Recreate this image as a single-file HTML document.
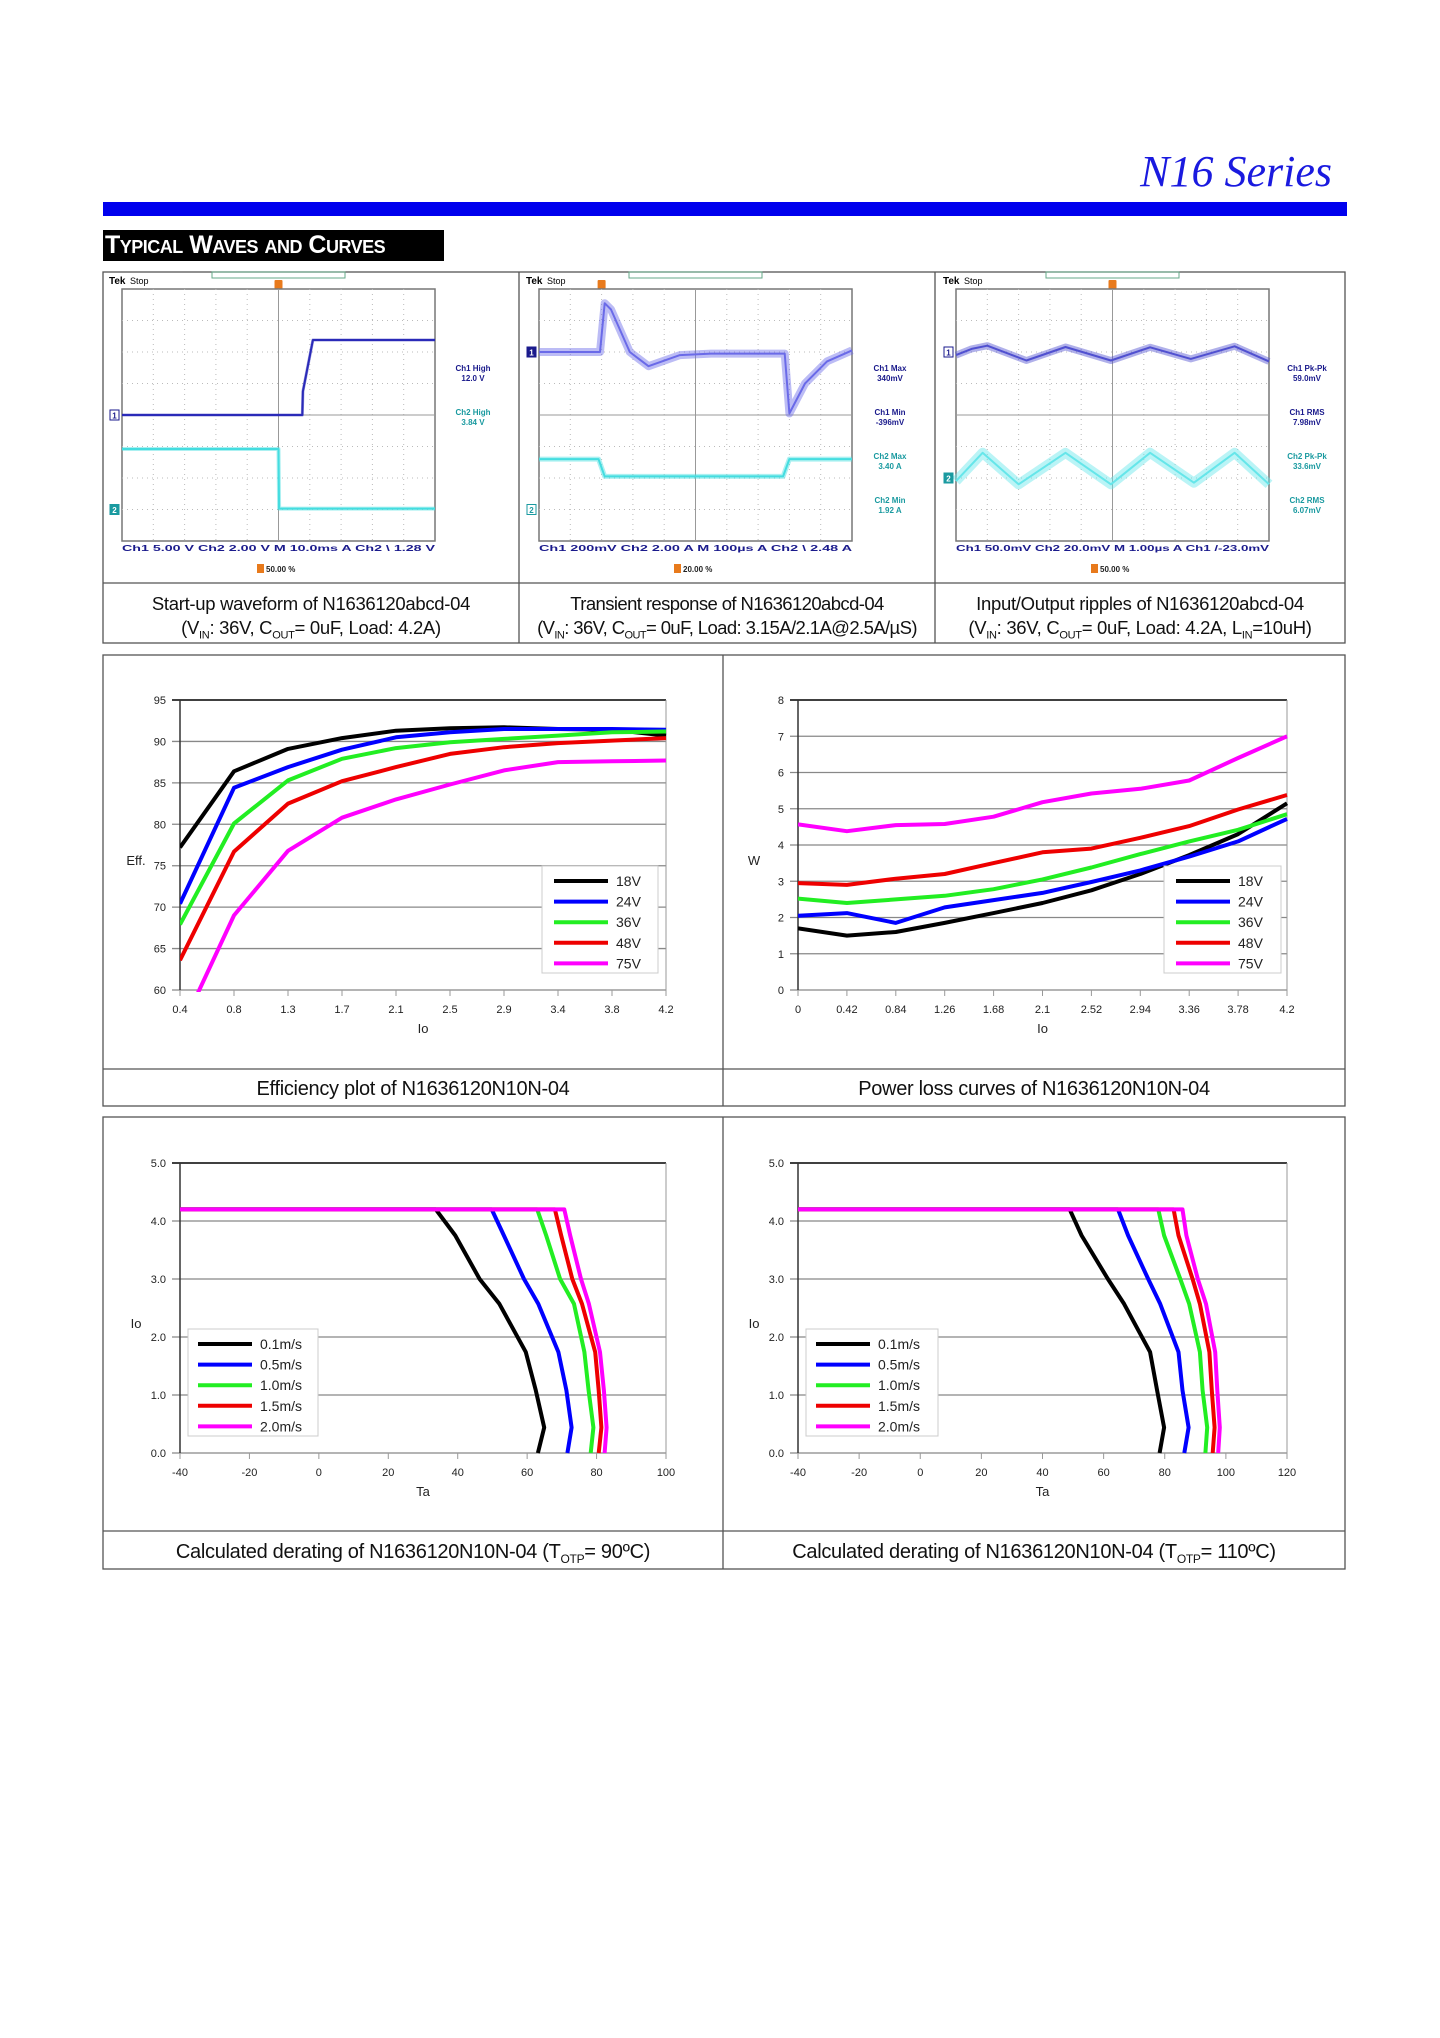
<!DOCTYPE html>
<html><head><meta charset="utf-8">
<style>
body{margin:0;background:#fff;}
#page{position:relative;width:1440px;height:2038px;background:#fff;overflow:hidden;font-family:"Liberation Sans",Arial,sans-serif;}
.abs{position:absolute;}
.cap{position:absolute;text-align:center;font-size:18.5px;color:#111;line-height:24px;white-space:nowrap;letter-spacing:-0.3px;}
.cap sub{line-height:0;}
svg text{font-family:"Liberation Sans",Arial,sans-serif;}
</style></head>
<body>
<div id="page">
  <div class="abs" style="left:1100px;top:146px;width:232px;text-align:right;font-family:'Liberation Serif',serif;font-style:italic;font-size:44px;color:#1a1adf;">N16 Series</div>
  <div class="abs" style="left:103px;top:202px;width:1244px;height:14px;background:#0000ee;"></div>
  <div class="abs" style="left:103px;top:230px;width:341px;height:31px;background:#000;color:#fff;font-size:25px;font-weight:bold;font-variant:small-caps;line-height:31px;white-space:nowrap;padding-left:2px;box-sizing:border-box;letter-spacing:-0.5px;">Typical Waves and Curves</div>

  <svg id="main" class="abs" style="left:0;top:0" width="1440" height="2038"></svg>

  <div class="cap" style="left:103px;top:592px;width:416px;">Start-up waveform of N1636120abcd-04<br>(V<sub style="font-size:11px">IN</sub>: 36V, C<sub style="font-size:11px">OUT</sub>= 0uF, Load: 4.2A)</div>
  <div class="cap" style="left:519px;top:592px;width:416px;letter-spacing:-0.6px;">Transient response of N1636120abcd-04<br>(V<sub style="font-size:11px">IN</sub>: 36V, C<sub style="font-size:11px">OUT</sub>= 0uF, Load: 3.15A/2.1A@2.5A/µS)</div>
  <div class="cap" style="left:935px;top:592px;width:410px;">Input/Output ripples of N1636120abcd-04<br>(V<sub style="font-size:11px">IN</sub>: 36V, C<sub style="font-size:11px">OUT</sub>= 0uF, Load: 4.2A, L<sub style="font-size:11px">IN</sub>=10uH)</div>
  <div class="cap" style="left:103px;top:1077px;width:620px;font-size:20px;">Efficiency plot of N1636120N10N-04</div>
  <div class="cap" style="left:723px;top:1077px;width:622px;font-size:20px;">Power loss curves of N1636120N10N-04</div>
  <div class="cap" style="left:103px;top:1540px;width:620px;font-size:20px;">Calculated derating of N1636120N10N-04 (T<sub style="font-size:12px">OTP</sub>= 90ºC)</div>
  <div class="cap" style="left:723px;top:1540px;width:622px;font-size:20px;">Calculated derating of N1636120N10N-04 (T<sub style="font-size:12px">OTP</sub>= 110ºC)</div>
</div>
<script>
// ---------- DATA ----------
const effCategories = ["0.4","0.8","1.3","1.7","2.1","2.5","2.9","3.4","3.8","4.2"];
const effTicks = [60,65,70,75,80,85,90,95];
const eff18 = [77.2,86.4,89.1,90.4,91.3,91.6,91.7,91.5,91.4,90.7];
const eff24 = [70.4,84.4,86.9,89.0,90.5,91.1,91.5,91.5,91.5,91.4];
const eff36 = [67.9,80.1,85.3,87.9,89.2,89.9,90.3,90.7,91.1,91.2];
const eff48 = [63.6,76.7,82.5,85.2,86.9,88.5,89.3,89.8,90.1,90.4];
const eff75 = [55.0,69.0,76.8,80.8,83.0,84.8,86.5,87.5,87.6,87.7];

const lossCategories = ["0","0.42","0.84","1.26","1.68","2.1","2.52","2.94","3.36","3.78","4.2"];
const lossTicks = [0,1,2,3,4,5,6,7,8];
const loss18 = [1.7,1.5,1.6,1.85,2.12,2.4,2.75,3.2,3.72,4.3,5.15];
const loss24 = [2.05,2.12,1.85,2.28,2.48,2.68,2.98,3.3,3.68,4.1,4.72];
const loss36 = [2.52,2.4,2.5,2.6,2.78,3.05,3.38,3.75,4.1,4.42,4.85];
const loss48 = [2.95,2.9,3.07,3.2,3.5,3.8,3.9,4.2,4.52,4.98,5.38];
const loss75 = [4.57,4.38,4.55,4.58,4.78,5.18,5.42,5.55,5.78,6.4,7.0];

const voltLabels = ["18V","24V","36V","48V","75V"];
const airLabels = ["0.1m/s","0.5m/s","1.0m/s","1.5m/s","2.0m/s"];
const seriesColors = ["#000000","#0000ff","#22ee22","#ee0000","#ff00ff"];

const derIoTicks = [0,1,2,3,4,5];
const derIoLabels = ["0.0","1.0","2.0","3.0","4.0","5.0"];
const derTaTicks90 = [-40,-20,0,20,40,60,80,100];
const derTaTicks110 = [-40,-20,0,20,40,60,80,100,120];
const derIo = [4.2,4.2,3.75,3.0,2.57,1.74,1.08,0.44,0.0];
const d90Ta01 = [-40,33.7,39.3,46.3,52,59.6,62.5,64.9,63.1];
const d90Ta05 = [-40,49.8,53.3,59.1,63.2,69,71.3,72.8,71.6];
const d90Ta10 = [-40,62.9,65.5,69.5,73.5,76.5,77.7,79.1,78.3];
const d90Ta15 = [-40,68,69.8,73,75.8,79.6,80.6,81.4,80.6];
const d90Ta20 = [-40,70.7,72.4,75.5,77.8,81.0,82.1,82.9,82.3];
const d110Ta01 = [-40,48.9,52.8,61.4,66.7,75.2,77.5,79.8,78.3];
const d110Ta05 = [-40,64.7,68,74.6,78.5,84.5,85.8,87.8,86.4];
const d110Ta10 = [-40,77.9,79.8,85.1,88,91.5,92.4,93.9,93.3];
const d110Ta15 = [-40,82.9,84.5,89.1,91.5,94.6,95.4,96.3,95.7];
const d110Ta20 = [-40,85.8,87.1,90.8,93.5,96.5,97.2,98,97.5];

// scope traces (x in divisions 0..10, y in divisions from top 0..8)
const s1Ch1X = [0,5.76,5.78,6.1,10];
const s1Ch1Y = [4.0,4.0,3.25,1.62,1.62];
const s1Ch2X = [0,5.0,5.02,10];
const s1Ch2Y = [5.08,5.08,6.97,6.97];
const s2Ch1X = [0,1.95,2.1,2.3,2.9,3.5,4.5,5.5,7.85,8.0,8.5,9.2,10];
const s2Ch1Y = [2.0,2.0,0.45,0.65,2.0,2.45,2.1,2.05,2.05,3.95,3.0,2.3,1.95];
const s2Ch2X = [0,1.9,2.1,7.8,8.0,10];
const s2Ch2Y = [5.4,5.4,5.95,5.95,5.4,5.4];
const s3Ch1X = [0,0.5,1.0,2.25,3.5,4.95,6.2,7.5,8.9,10];
const s3Ch1Y = [2.1,1.9,1.8,2.27,1.84,2.27,1.85,2.22,1.82,2.3];
const s3Ch2X = [0,0.85,2.0,3.5,4.95,6.2,7.6,8.9,10];
const s3Ch2Y = [6.1,5.2,6.2,5.2,6.2,5.2,6.15,5.2,6.2];

// ---------- HELPERS ----------
const NS="http://www.w3.org/2000/svg";
const svg=document.getElementById('main');
function mk(tag,attrs,parent){const e=document.createElementNS(NS,tag);for(const k in attrs)e.setAttribute(k,attrs[k]);(parent||svg).appendChild(e);return e;}
function txt(x,y,s,size,anchor,fill,parent,extra){const t=mk('text',Object.assign({x:x,y:y,'font-size':size,'text-anchor':anchor||'start',fill:fill||'#222'},extra||{}),parent);t.textContent=s;return t;}

// ---------- BOXES ----------
function rectBox(x,y,w,h,name){
  const r=mk('rect',{x:x,y:y,width:w,height:h,fill:'none',stroke:'#555','stroke-width':1.3});
  
  
}
function hline(x1,x2,y,name){
  const l=mk('line',{x1:x1,x2:x2,y1:y,y2:y,stroke:'#555','stroke-width':1.3});
  
  
}
function vline(x,y1,y2,name){
  const l=mk('line',{x1:x,x2:x,y1:y1,y2:y2,stroke:'#555','stroke-width':1.3});
  
  
}
rectBox(103,272,1242,371,'waveform-panel');
hline(103,1345,583,'waveform-caption-divider');
vline(519,272,643,'waveform-column-divider');
vline(935,272,643,'waveform-column-divider');
rectBox(103,655,1242,451,'curves-panel');
hline(103,1345,1069,'curves-caption-divider');
vline(723,655,1106,'curves-column-divider');
rectBox(103,1117,1242,452,'derating-panel');
hline(103,1345,1531,'derating-caption-divider');
vline(723,1117,1569,'derating-column-divider');

// ---------- SCOPE ----------
function scope(left,top,cfg){
  const W=313,H=252,dx=W/10,dy=H/8;
  const g=mk('g',{});
  
  
  const hdr=txt(left-13,top-5,'Tek',10,'start','#000',g,{'font-weight':'bold'});
  
  
  const st=txt(left+8,top-5,'Stop',9,'start','#000',g);
  
  
  const br=mk('rect',{x:left+90,y:top-17,width:133,height:6,fill:'none',stroke:'#6a8',"stroke-width":1},g);
  
  
  const tm=mk('rect',{x:left+cfg.trig*dx-4,y:top-9,width:8,height:9,fill:'#e87a1c',rx:1},g);
  
  
  const fr=mk('rect',{x:left,y:top,width:W,height:H,fill:'#fff',stroke:'#777','stroke-width':1.5},g);
  
  
  for(let i=1;i<10;i++){
    const l=mk('line',{x1:left+i*dx,x2:left+i*dx,y1:top,y2:top+H,stroke:i==5?'#999':'#bbb','stroke-width':1,'stroke-dasharray':i==5?'':'1,4'},g);
    
    
  }
  for(let j=1;j<8;j++){
    const l=mk('line',{x1:left,x2:left+W,y1:top+j*dy,y2:top+j*dy,stroke:j==4?'#999':'#bbb','stroke-width':1,'stroke-dasharray':j==4?'':'1,4'},g);
    
    
  }
  cfg.traces.forEach(tr=>{
    const pts=tr.x.map((v,i)=>(left+v*dx).toFixed(1)+','+(top+tr.y[i]*dy).toFixed(1)).join(' ');
    const halo=mk('polyline',{points:pts,fill:'none',stroke:tr.color,'stroke-width':tr.fuzz,'stroke-opacity':0.45,'stroke-linejoin':'round'},g);
    
    
    const p=mk('polyline',{points:pts,fill:'none',stroke:tr.color,'stroke-width':2,'stroke-linejoin':'round'},g);
    
    
  });
  cfg.markers.forEach(m=>{
    const r=mk('rect',{x:left-12,y:top+m.y*dy-5,width:9,height:10,fill:m.fill,stroke:m.color,'stroke-width':1},g);
    
    
    const t=txt(left-7.5,top+m.y*dy+3.5,m.label,8,'middle',m.fill=='#fff'?m.color:'#fff',g,{'font-weight':'bold'});
    
    
  });
  cfg.meas.forEach((m,i)=>{
    const t1=txt(left+351,top+cfg.mtop+i*44,m[0],8,'middle',m[2],g,{'font-family':'Liberation Mono, monospace','font-weight':'bold'});
    
    
    const t2=txt(left+351,top+cfg.mtop+10+i*44,m[1],8,'middle',m[2],g,{'font-family':'Liberation Mono, monospace','font-weight':'bold'});
    
    
  });
  const rd=txt(left,top+H+10,cfg.readout,8,'start','#1a1a8c',g,{'font-family':'Liberation Mono, monospace','font-weight':'bold','textLength':W,'lengthAdjust':'spacingAndGlyphs'});
  
  
  const tb=mk('rect',{x:left+135,y:top+H+23,width:7,height:9,fill:'#e87a1c'},g);
  
  
  const tp=txt(left+144,top+H+31,cfg.tpos,8,'start','#222',g,{'font-family':'Liberation Mono, monospace','font-weight':'bold'});
  
  
}
const C1='#2a2ab8',C2='#44dde0',T1='#1a1a8c',T2='#1a9aa0';
scope(122,289,{name:'startup-scope',trig:5,mtop:82,
  traces:[{name:'ch1-trace',x:s1Ch1X,y:s1Ch1Y,color:C1,fuzz:3},{name:'ch2-trace',x:s1Ch2X,y:s1Ch2Y,color:C2,fuzz:4}],
  markers:[{y:4,label:'1',fill:'#fff',color:T1},{y:7,label:'2',fill:'#1a9aa0',color:'#1a9aa0'}],
  meas:[['Ch1 High','12.0 V',T1],['Ch2 High','3.84 V',T2]],
  readout:'Ch1  5.00 V  Ch2  2.00 V  M 10.0ms  A  Ch2 \\  1.28 V',tpos:'50.00 %'});
scope(539,289,{name:'transient-scope',trig:2,mtop:82,
  traces:[{name:'ch1-trace',x:s2Ch1X,y:s2Ch1Y,color:'#6a6ae8',fuzz:8},{name:'ch2-trace',x:s2Ch2X,y:s2Ch2Y,color:C2,fuzz:5}],
  markers:[{y:2,label:'1',fill:'#1a1a8c',color:T1},{y:7,label:'2',fill:'#fff',color:T2}],
  meas:[['Ch1 Max','340mV',T1],['Ch1 Min','-396mV',T1],['Ch2 Max','3.40 A',T2],['Ch2 Min','1.92 A',T2]],
  readout:'Ch1  200mV  Ch2  2.00 A  M 100µs  A  Ch2 \\  2.48 A',tpos:'20.00 %'});
scope(956,289,{name:'ripple-scope',trig:5,mtop:82,
  traces:[{name:'ch1-trace',x:s3Ch1X,y:s3Ch1Y,color:'#5050d0',fuzz:7},{name:'ch2-trace',x:s3Ch2X,y:s3Ch2Y,color:'#66e6ea',fuzz:10}],
  markers:[{y:2,label:'1',fill:'#fff',color:T1},{y:6,label:'2',fill:'#1a9aa0',color:'#1a9aa0'}],
  meas:[['Ch1 Pk-Pk','59.0mV',T1],['Ch1 RMS','7.98mV',T1],['Ch2 Pk-Pk','33.6mV',T2],['Ch2 RMS','6.07mV',T2]],
  readout:'Ch1  50.0mV Ch2  20.0mV M 1.00µs A  Ch1 /-23.0mV',tpos:'50.00 %'});

// ---------- LINE CHARTS ----------
let clipId=0;
function chart(cfg){
  const L=cfg.left,R=cfg.right,T=cfg.top,B=cfg.bottom;
  const g=mk('g',{});
  
  
  const y=v=>B-(v-cfg.ymin)/(cfg.ymax-cfg.ymin)*(B-T);
  const x=cfg.xfun;
  cfg.yticks.forEach((v,i)=>{
    const gl=mk('line',{x1:L-8,x2:R,y1:y(v),y2:y(v),stroke:v==cfg.ymax?'#000':'#888','stroke-width':v==cfg.ymax?1.6:1.3},g);
    
    
    const t=txt(L-14,y(v)+4,cfg.ylabels[i],11,'end','#222',g);
    
    
  });
  const ax=mk('line',{x1:L,x2:L,y1:T,y2:B,stroke:'#333','stroke-width':1.5},g);
  
  
  const rx=mk('line',{x1:R,x2:R,y1:T,y2:B,stroke:'#999','stroke-width':1},g);
  
  
  cfg.xticks.forEach((v,i)=>{
    const tk=mk('line',{x1:x(v,i),x2:x(v,i),y1:B,y2:B+6,stroke:'#999','stroke-width':1},g);
    
    
    const t=txt(x(v,i),B+23,cfg.xlabels[i],11,'middle','#222',g);
    
    
  });
  const xt=txt((L+R)/2,B+43,cfg.xtitle,13,'middle','#222',g,{'font-family':'Liberation Serif, serif'});
  
  
  const yt=txt(L-44,(T+B)/2+20,cfg.ytitle,13,'middle','#222',g,{'font-family':cfg.ytitle=='Io'?'Liberation Serif, serif':'Liberation Sans, sans-serif'});
  
  
  const id='clip'+(clipId++);
  const cp=mk('clipPath',{id:id},g);
  mk('rect',{x:L,y:T-4,width:R-L+6,height:B-T+6},cp);
  cfg.series.forEach((s,k)=>{
    const pts=s.ys.map((v,i)=>x(s.xs?s.xs[i]:i,i).toFixed(1)+','+y(v).toFixed(1)).join(' ');
    const p=mk('polyline',{points:pts,fill:'none',stroke:seriesColors[k],'stroke-width':4,'stroke-linejoin':'round','clip-path':'url(#'+id+')'},g);
    
    
  });
  const lg=cfg.lg;
  const box=mk('rect',{x:lg.x,y:lg.y,width:lg.w,height:107,fill:'#fff',stroke:'#ccc','stroke-width':1},g);
  
  
  cfg.legend.forEach((s,k)=>{
    const yy=lg.y+15+k*20.6;
    const ll=mk('line',{x1:lg.x+lg.l1,x2:lg.x+lg.l1+54,y1:yy,y2:yy,stroke:seriesColors[k],'stroke-width':4},g);
    
    
    const t=txt(lg.x+lg.l1+62,yy+5,s,14,'start','#222',g);
    
    
  });
}
function catX(L,R,n){return (v,i)=>L+i*(R-L)/(n-1);}
function linX(L,R,a,b){return (v)=>L+(v-a)/(b-a)*(R-L);}

chart({name:'efficiency-chart',left:180,right:666,top:700,bottom:990,ymin:60,ymax:95,
  yticks:effTicks,ylabels:effTicks.map(String),xticks:effCategories,xlabels:effCategories,
  xfun:catX(180,666,effCategories.length),xtitle:'Io',ytitle:'Eff.',
  series:[{ys:eff18},{ys:eff24},{ys:eff36},{ys:eff48},{ys:eff75}],legend:voltLabels,
  lg:{x:542,y:866,w:116,l1:12}});
chart({name:'power-loss-chart',left:798,right:1287,top:700,bottom:990,ymin:0,ymax:8,
  yticks:lossTicks,ylabels:lossTicks.map(String),xticks:lossCategories,xlabels:lossCategories,
  xfun:catX(798,1287,lossCategories.length),xtitle:'Io',ytitle:'W',
  series:[{ys:loss18},{ys:loss24},{ys:loss36},{ys:loss48},{ys:loss75}],legend:voltLabels,
  lg:{x:1164,y:866,w:117,l1:12}});
chart({name:'derating-90-chart',left:180,right:666,top:1163,bottom:1453,ymin:0,ymax:5,
  yticks:derIoTicks,ylabels:derIoLabels,xticks:derTaTicks90,xlabels:derTaTicks90.map(String),
  xfun:linX(180,666,-40,100),xtitle:'Ta',ytitle:'Io',
  series:[{xs:d90Ta01,ys:derIo},{xs:d90Ta05,ys:derIo},{xs:d90Ta10,ys:derIo},{xs:d90Ta15,ys:derIo},{xs:d90Ta20,ys:derIo}],legend:airLabels,
  lg:{x:188,y:1329,w:130,l1:10}});
chart({name:'derating-110-chart',left:798,right:1287,top:1163,bottom:1453,ymin:0,ymax:5,
  yticks:derIoTicks,ylabels:derIoLabels,xticks:derTaTicks110,xlabels:derTaTicks110.map(String),
  xfun:linX(798,1287,-40,120),xtitle:'Ta',ytitle:'Io',
  series:[{xs:d110Ta01,ys:derIo},{xs:d110Ta05,ys:derIo},{xs:d110Ta10,ys:derIo},{xs:d110Ta15,ys:derIo},{xs:d110Ta20,ys:derIo}],legend:airLabels,
  lg:{x:806,y:1329,w:132,l1:10}});
</script>
</body></html>
